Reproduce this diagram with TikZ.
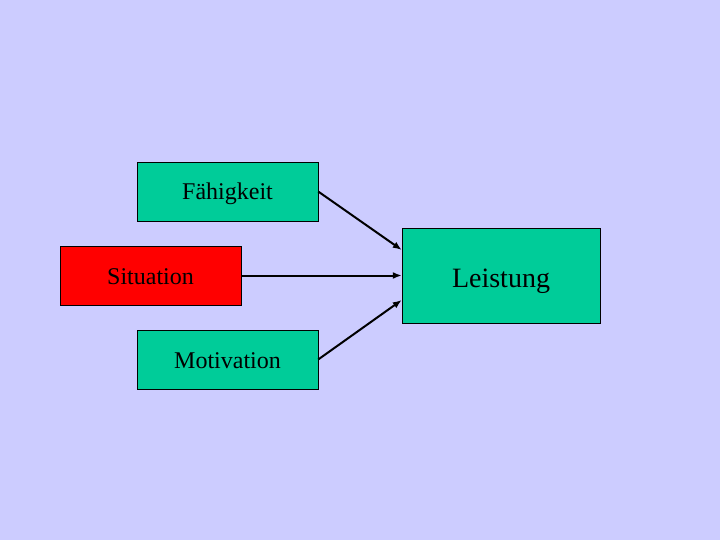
\documentclass[tikz,border=0pt]{standalone}
\usepackage{fontspec}
\setmainfont{Liberation Serif}
\usepackage{xcolor}
\usetikzlibrary{arrows.meta,positioning}
\definecolor{slidebg}{HTML}{CCCCFF}
\definecolor{boxgreen}{HTML}{00CC99}
\definecolor{boxred}{HTML}{FF0000}
\tikzset{
  factor/.style={draw=black,fill=boxgreen,minimum width=181pt,minimum height=59pt,inner sep=0pt,
    text height=22pt,text depth=5pt,font=\fontsize{24}{28}\selectfont},
  result/.style={factor,minimum width=198pt,minimum height=95pt,
    text height=28pt,text depth=5pt,font=\fontsize{28}{32}\selectfont},
  link/.style={-{Latex[length=9pt,width=7pt]},line width=2pt}
}
\begin{document}
\begin{tikzpicture}[x=1pt,y=-1pt]
  \fill[slidebg] (0,0) rectangle (720,540);
  \useasboundingbox (0,0) rectangle (720,540);
  % three factors on the left
  \node[factor] (faehig) at (227.5,191.5) {Fähigkeit};
  \node[factor,fill=boxred] (situ) at (150.5,275.5) {Situation};
  \node[factor] (motiv) at (227.5,359.5) {Motivation};
  % the outcome
  \node[result] (leist) at (501,275.5) {Leistung};
  \draw[link] (faehig.east) -- (leist.west |- 0,250);
  \draw[link] (situ.east) -- (leist.west);
  \draw[link] (motiv.east) -- (leist.west |- 0,300);
\end{tikzpicture}
\end{document}
